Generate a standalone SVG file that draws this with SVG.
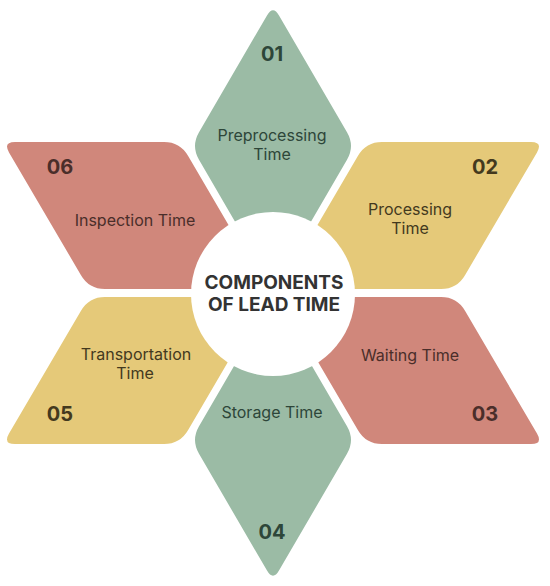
<svg xmlns="http://www.w3.org/2000/svg" width="550" height="586" viewBox="0 0 550 586">
  <style>
    .green { fill: #9bbba5; }
    .yellow { fill: #e5c979; }
    .red { fill: #d0877b; }
    text { font-family: Inter, "Liberation Sans", sans-serif; text-anchor: middle; }
    .lbl { font-size: 16px; font-weight: 400; }
    .num { font-size: 20px; font-weight: 700; }
    .g-t { fill: #2d4639; }
    .y-t { fill: #43391e; }
    .r-t { fill: #4a2e2a; }
    .title { font-size: 19px; font-weight: 700; fill: #333333; }
  </style>
  <rect width="550" height="586" fill="#ffffff"/>

  <g id="node-01">
    <path class="green" d="M267,15.4 Q273,5 279,15.4 L347,132.2 Q355,146 347,159.8 L273,287 L199,159.8 Q191,146 199,132.2 Z"/>
    <text class="num g-t" x="272" y="61">01</text>
    <text class="lbl g-t" x="272" y="141">Preprocessing</text>
    <text class="lbl g-t" x="272" y="160">Time</text>
  </g>

  <g id="node-02">
    <path class="yellow" d="M531,142 L382,142 Q366,142 358,155.8 L280,289 L441,289 Q457,289 465,275.2 L537,152.4 Q543,142 531,142 Z"/>
    <text class="num y-t" x="485" y="174">02</text>
    <text class="lbl y-t" x="410" y="215">Processing</text>
    <text class="lbl y-t" x="410" y="234">Time</text>
  </g>

  <g id="node-03">
    <path class="red" d="M531,444 L382,444 Q366,444 358,430.2 L280,297 L441,297 Q457,297 465,310.8 L537,433.6 Q543,444 531,444 Z"/>
    <text class="lbl r-t" x="410" y="361">Waiting Time</text>
    <text class="num r-t" x="485" y="421">03</text>
  </g>

  <g id="node-04">
    <path class="green" d="M273,299 L347,426.2 Q355,440 347,453.8 L279,570.6 Q273,581 267,570.6 L199,453.8 Q191,440 199,426.2 Z"/>
    <text class="lbl g-t" x="272" y="418">Storage Time</text>
    <text class="num g-t" x="272" y="539">04</text>
  </g>

  <g id="node-05">
    <path class="yellow" d="M15,444 L164,444 Q180,444 188,430.2 L266,297 L105,297 Q89,297 81,310.8 L9,433.6 Q3,444 15,444 Z"/>
    <text class="lbl y-t" x="136" y="360">Transportation</text>
    <text class="lbl y-t" x="135" y="379">Time</text>
    <text class="num y-t" x="60" y="421">05</text>
  </g>

  <g id="node-06">
    <path class="red" d="M15,142 L164,142 Q180,142 188,155.8 L266,289 L105,289 Q89,289 81,275.2 L9,152.4 Q3,142 15,142 Z"/>
    <text class="num r-t" x="60" y="174">06</text>
    <text class="lbl r-t" x="135" y="226">Inspection Time</text>
  </g>

  <g id="node-center">
    <circle cx="273" cy="294" r="82" fill="#ffffff"/>
    <text class="title" x="274" y="289">COMPONENTS</text>
    <text class="title" x="274" y="311">OF LEAD TIME</text>
  </g>
</svg>
